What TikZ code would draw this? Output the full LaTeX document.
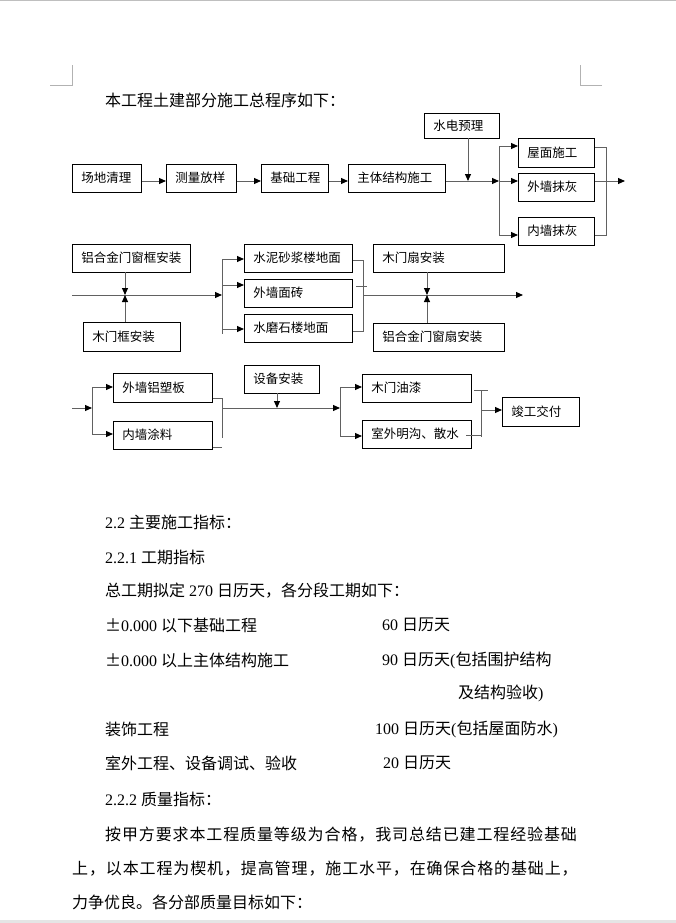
\documentclass[tikz,border=0pt]{standalone}
\usepackage{fontspec}
\setmainfont{Liberation Serif}
\newfontfamily\cjk{Noto Sans CJK SC}
\newfontfamily\cjkwide{Noto Sans CJK SC}[LetterSpace=5.5]
\usetikzlibrary{arrows.meta, positioning}

\tikzset{
  box/.style={draw, line width=0.9pt, anchor=west, text width=#1, align=left,
    inner xsep=9pt, inner ysep=0pt, minimum height=28pt,
    font=\fontsize{12.5}{14}\cjk},
  link/.style={draw=black!62, line width=1pt},
  para/.style={anchor=west, inner sep=0pt, font=\fontsize{16}{18}\selectfont},
  crop/.style={draw=black!30, line width=1pt}
}

\begin{document}
\begin{tikzpicture}[x=1pt, y=-1pt, >={Triangle[length=7pt,width=6pt,color=black]}]
    \useasboundingbox (0,0) rectangle (676,923);
    \draw[black!25] (0,0.5) -- (676,0.5);
    \fill[black!10] (0,920) rectangle (676,923);
    \draw[crop] (50,86) -- (72,86) -- (72,65);
    \draw[crop] (602,86) -- (580,86) -- (580,65);

    \node[para] (intro) at (105,100) {\cjk 本工程土建部分施工总程序如下：};

    % first row
    \node[box=51pt] (clean) at (72,178) {场地清理};
    \node[box=52pt] (survey) at (166,178) {测量放样};
    \node[box=49pt] (found) at (261,178) {基础工程};
    \node[box=79pt] (frame) at (348,178) {主体结构施工};
    \node[box=57pt, minimum height=25pt] (pipe) at (424,125.5) {水电预理};
    \node[box=58pt, minimum height=29pt] (roof) at (518,152.5) {屋面施工};
    \node[box=58pt] (outwall) at (518,187) {外墙抹灰};
    \node[box=58pt] (inwall) at (518,231) {内墙抹灰};
    \coordinate (r1) at (0,181);
    \coordinate (drop1) at (468,181);
    \coordinate (split1) at (499,181);
    \coordinate (s1a) at (499,146);
    \coordinate (s1b) at (499,235);
    \coordinate (join1) at (606,181);
    \coordinate (j1a) at (606,147);
    \coordinate (j1b) at (606,235);
    \coordinate (out1) at (625,181);
    \draw[link,->] (clean.east |- r1) -- (survey.west |- r1);
    \draw[link,->] (survey.east |- r1) -- (found.west |- r1);
    \draw[link,->] (found.east |- r1) -- (frame.west |- r1);
    \draw[link,->] (frame.east |- r1) -- (split1);
    \draw[link,->] (pipe.south -| drop1) -- (drop1);
    \draw[link] (s1a) -- (s1b);
    \draw[link,->] (s1a) -- (roof.west |- s1a);
    \draw[link,->] (split1) -- (outwall.west |- split1);
    \draw[link,->] (s1b) -- (inwall.west |- s1b);
    \draw[link] (roof.east |- j1a) -- (j1a) -- (j1b) -- (inwall.east |- j1b);
    \draw[link] (outwall.east |- join1) -- (join1);
    \draw[link,->] (join1) -- (out1);

    % second row
    \node[box=100pt] (alframe) at (72,258) {铝合金门窗框安装};
    \node[box=79pt, minimum height=29pt] (woodframe) at (83,336.5) {木门框安装};
    \node[box=90pt] (mortar) at (244,258) {水泥砂浆楼地面};
    \node[box=90pt] (tile) at (244,293) {外墙面砖};
    \node[box=90pt] (terrazzo) at (244,328) {水磨石楼地面};
    \node[box=113pt] (wooddoor) at (373,258) {木门扇安装};
    \node[box=113pt] (alsash) at (373,337) {铝合金门窗扇安装};
    \coordinate (in2) at (72,295);
    \coordinate (meet2) at (125,295);
    \coordinate (split2) at (222,295);
    \coordinate (s2a) at (222,259);
    \coordinate (s2b) at (222,334);
    \coordinate (j2a) at (363,260);
    \coordinate (j2b) at (363,331);
    \coordinate (join2) at (363,295);
    \coordinate (meet2b) at (427,295);
    \coordinate (out2) at (523,295);
    \draw[link,->] (in2) -- (split2);
    \draw[link,->] (alframe.south -| meet2) -- (meet2);
    \draw[link,->] (woodframe.north -| meet2) -- (meet2);
    \draw[link] (s2a) -- (s2b);
    \draw[link,->] (s2a) -- (mortar.west |- s2a);
    \draw[link,->] (222,285) -- (tile.west |- 0,285);
    \draw[link,->] (222,329) -- (terrazzo.west |- 0,329);
    \draw[link] (mortar.east |- j2a) -- (j2a) -- (j2b) -- (terrazzo.east |- j2b);
    \draw[link] (356,286) -- (367,286);
    \draw[link,->] (join2) -- (out2);
    \draw[link,->] (wooddoor.south -| meet2b) -- (meet2b);
    \draw[link,->] (alsash.north -| meet2b) -- (meet2b);

    % third row
    \node[box=81pt, minimum height=29pt] (alplate) at (113,387.5) {外墙铝塑板};
    \node[box=81pt] (paint) at (113,435) {内墙涂料};
    \node[box=57pt] (equip) at (244,379) {设备安装};
    \node[box=91pt] (woodpaint) at (362,388) {木门油漆};
    \node[box=91pt] (drain) at (362,434) {室外明沟、散水};
    \node[box=59pt, minimum height=29pt] (done) at (502,411.5) {竣工交付};
    \coordinate (in3) at (72,408);
    \coordinate (split3) at (92,408);
    \coordinate (s3a) at (92,387);
    \coordinate (s3b) at (92,434);
    \coordinate (j3a) at (222,398);
    \coordinate (j3b) at (222,438);
    \coordinate (join3) at (222,408);
    \coordinate (drop3) at (277,408);
    \coordinate (split3b) at (340,408);
    \coordinate (s3c) at (340,387);
    \coordinate (s3d) at (340,436);
    \coordinate (j3c) at (481,390);
    \coordinate (j3d) at (481,437);
    \coordinate (join3b) at (481,410);
    \draw[link,->] (in3) -- (split3);
    \draw[link] (s3a) -- (s3b);
    \draw[link,->] (s3a) -- (alplate.west |- s3a);
    \draw[link,->] (s3b) -- (paint.west |- s3b);
    \draw[link] (alplate.east |- j3a) -- (j3a) -- (j3b);
    \draw[link] (paint.east |- 0,447) -- (222,447);
    \draw[link,->] (join3) -- (split3b);
    \draw[link,->] (equip.south -| drop3) -- (drop3);
    \draw[link] (s3c) -- (s3d);
    \draw[link,->] (s3c) -- (woodpaint.west |- s3c);
    \draw[link,->] (s3d) -- (drain.west |- s3d);
    \draw[link] (j3c) -- (j3d);
    \draw[link] (474,390) -- (488,390);
    \draw[link] (466,435) -- (481,435);
    \draw[link,->] (join3b) -- (done.west |- join3b);

    % text below
    \node[para] (sec) at (105,522) {2.2 {\cjk 主要施工指标：}};
    \node[para] (subsec) at (105,557) {2.2.1 {\cjk 工期指标}};
    \node[para] (total) at (105,591) {{\cjk 总工期拟定} 270 {\cjk 日历天，各分段工期如下：}};
    \node[para] (basename) at (105,625) {{\cjk ±}0.000 {\cjk 以下基础工程}};
    \node[para] (basedays) at (382,625) {60 {\cjk 日历天}};
    \node[para] (mainname) at (105,660) {{\cjk ±}0.000 {\cjk 以上主体结构施工}};
    \node[para] (maindays) at (382,660) {90 {\cjk 日历天}({\cjk 包括围护结构}};
    \node[para] (maindays2) at (458,693) {{\cjk 及结构验收})};
    \node[para] (decname) at (105,729) {\cjk 装饰工程};
    \node[para] (decdays) at (375,729) {100 {\cjk 日历天}({\cjk 包括屋面防水})};
    \node[para] (extname) at (105,763) {\cjk 室外工程、设备调试、验收};
    \node[para] (extdays) at (383,763) {20 {\cjk 日历天}};
    \node[para] (qsec) at (105,799) {2.2.2 {\cjk 质量指标：}};
    \node[para] (q1) at (105,835) {\cjkwide 按甲方要求本工程质量等级为合格，我司总结已建工程经验基础};
    \node[para] (q2) at (72,869) {\cjkwide 上，以本工程为楔机，提高管理，施工水平，在确保合格的基础上，};
    \node[para] (q3) at (72,902) {\cjk 力争优良。各分部质量目标如下：};
\end{tikzpicture}
\end{document}
